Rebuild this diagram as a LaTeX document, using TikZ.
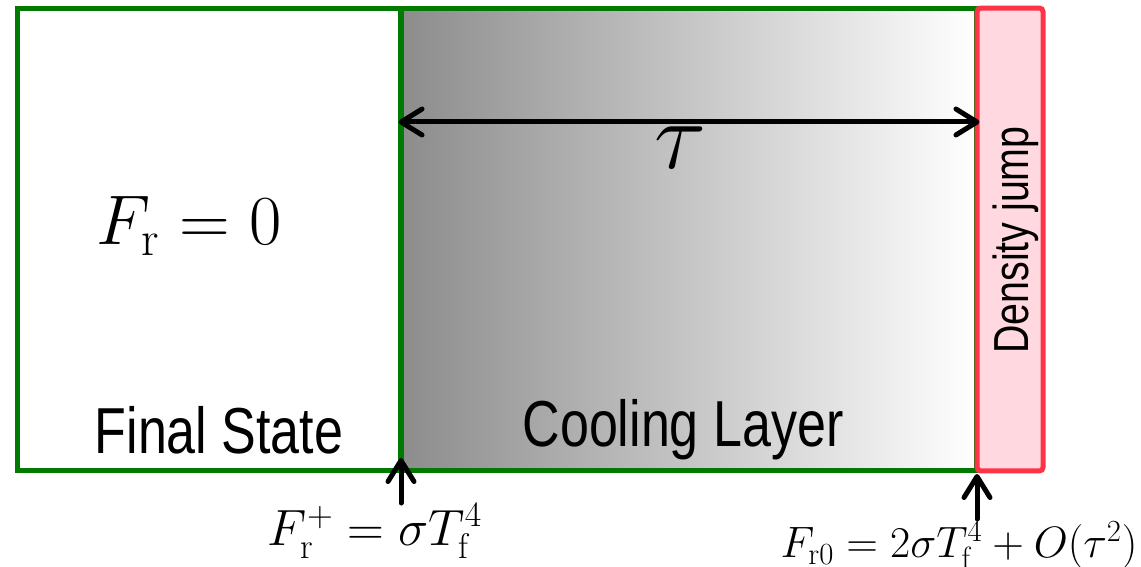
\RequirePackage{fix-cm}
\documentclass[tikz,border=0pt]{standalone}
\usepackage{fontspec}
\newfontfamily\labelfont[FakeStretch=0.8]{Liberation Sans}
\usepackage{tikz}
\usetikzlibrary{arrows.meta, positioning, calc}
\definecolor{layergreen}{RGB}{0,122,0}
\definecolor{jumpred}{RGB}{255,51,72}
\definecolor{jumppink}{RGB}{255,217,223}
\tikzset{
    zone/.style={rectangle, draw=layergreen, line width=0.1cm, inner sep=0pt, minimum height=9.26cm},
    zone_jump/.style={rectangle, draw=jumpred, fill=jumppink, line width=0.1cm, rounded corners=2pt, inner sep=0pt, minimum width=1.32cm, minimum height=9.26cm},
    zone_label/.style={font=\labelfont\fontsize{37}{40}\selectfont},
    barb/.tip={Straight Barb[round, length=0.42cm, width=0.52cm]},
    arrow/.style={barb-barb, line width=0.1cm, line cap=round},
    uparrow/.style={-barb, line width=0.1cm, line cap=round}
}
\begin{document}
\begin{tikzpicture}[x=0.02cm, y=-0.02cm]
            \useasboundingbox (0,0) rectangle (1141,567);
            % Regions
            \node (cooling) [zone, minimum width=11.52cm, left color=black!45, right color=white] at (689, 239.5) {};
            \node (final) [zone, minimum width=7.68cm, fill=white] at (209, 239.5) {};
            \node (jump) [zone_jump] at (1010, 239.5) {};

            % Region labels
            \node (finaltext) [zone_label] at (219, 430) {Final State};
            \node (coolingtext) [zone_label] at (683, 430) {Cooling Layer};
            \node (jumptext) [font=\labelfont\fontsize{28}{30}\selectfont, rotate=90] at (1016, 240) {Density jump};
            \node (frzero) [font=\fontsize{40}{44}\selectfont] at (189, 226) {$F_{\mathrm{r}}=0$};

            % Optical depth of the layer
            \coordinate (taurow) at (0, 122);
            \draw [arrow] (cooling.west |- taurow) -- (cooling.east |- taurow);
            \node (tau) [font=\fontsize{55}{60}\selectfont] at (680, 148) {$\tau$};

            % Fluxes at the boundaries
            \coordinate (fplusfoot) at (401, 503);
            \coordinate (fplushead) at (401, 458);
            \coordinate (fzerofoot) at (977, 519);
            \coordinate (fzerohead) at (977, 474);
            \draw [uparrow] (fplusfoot) -- (fplushead);
            \draw [uparrow] (fzerofoot) -- (fzerohead);
            \node (fplus) [font=\fontsize{29}{34}\selectfont] at (375, 531) {$F_{\mathrm{r}}^{+}=\sigma T_{\mathrm{f}}^{4}$};
            \node (fzero) [font=\fontsize{25}{30}\selectfont] at (959, 545) {$F_{\mathrm{r0}}=2\sigma T_{\mathrm{f}}^{4}+O(\tau^{2})$};
\end{tikzpicture}
\end{document}
